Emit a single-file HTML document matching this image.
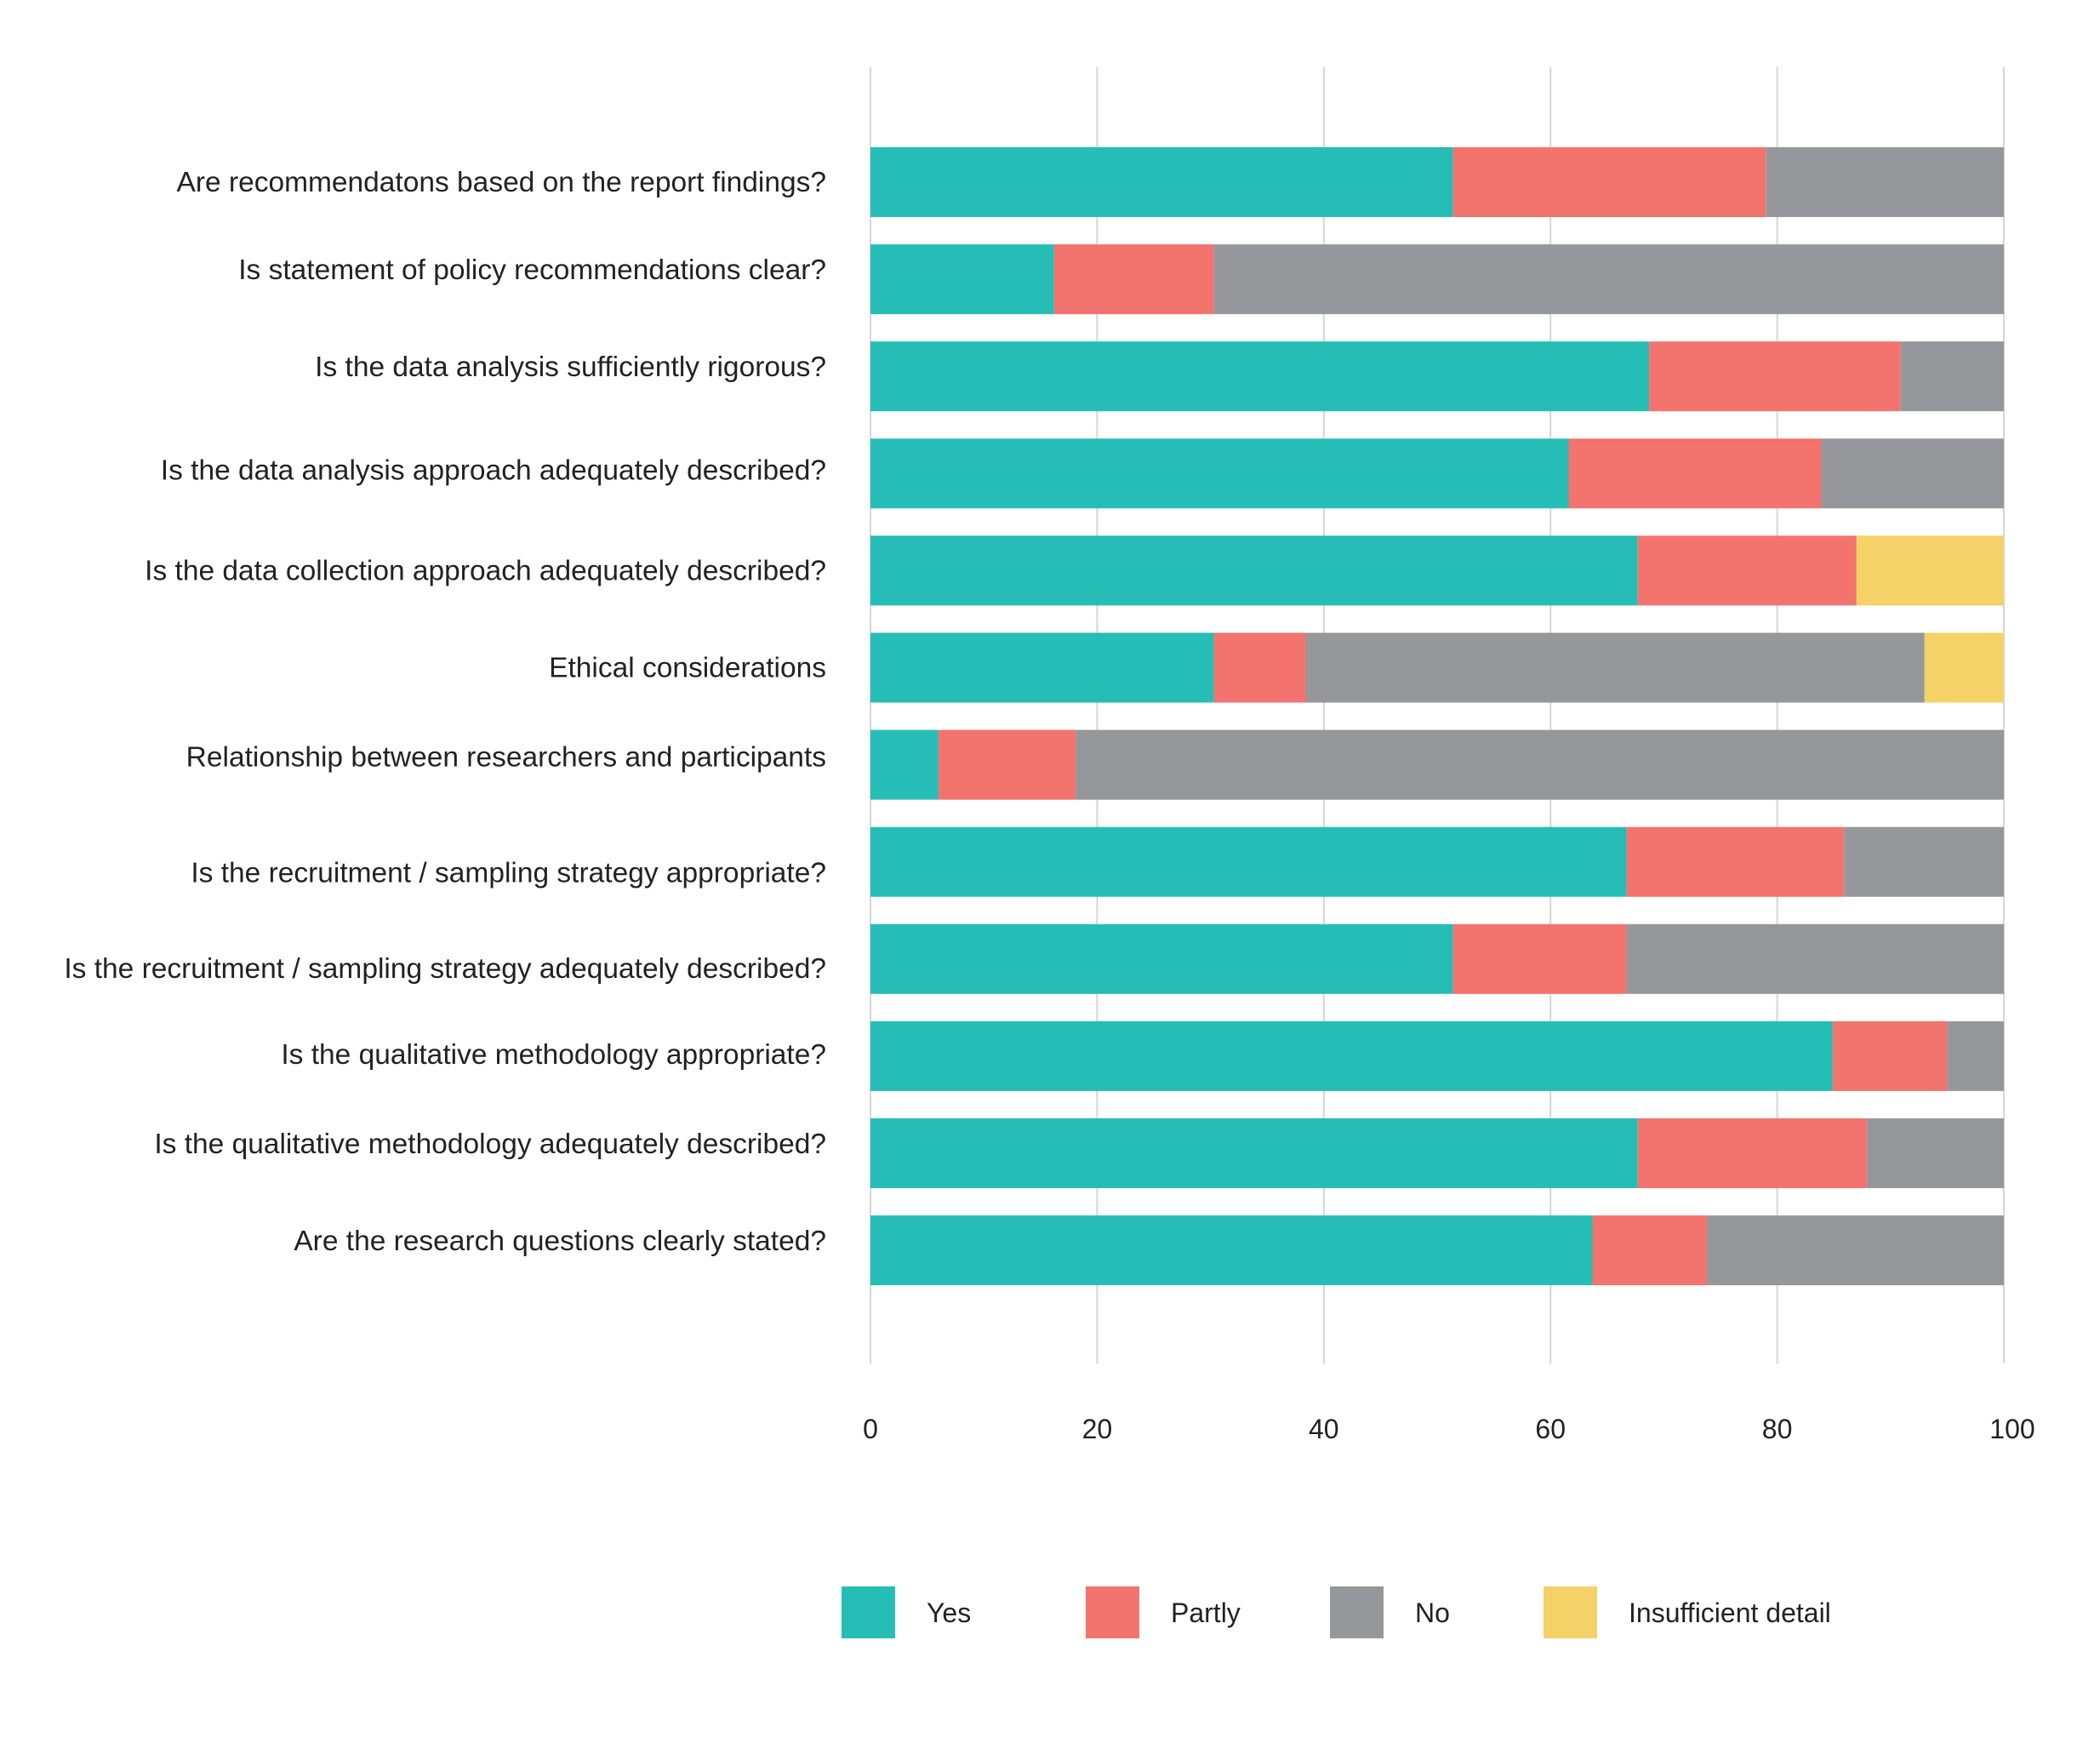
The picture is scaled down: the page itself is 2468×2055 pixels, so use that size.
<!DOCTYPE html>
<html><head><meta charset="utf-8"><style>
html,body{margin:0;padding:0;background:#fff}
svg{display:block;font-family:"Liberation Sans",Arial,sans-serif}
</style></head><body>
<svg id="chart" width="2468" height="2055" viewBox="0 0 2468 2055" xmlns="http://www.w3.org/2000/svg">
<g id="grid"></g>
<g id="bars"></g>
<g id="ylabels"></g>
<g id="xlabels"></g>
<g id="legend"></g>
</svg>
<script>
const categories = [
"Are recommendatons based on the report findings?",
"Is statement of policy recommendations clear?",
"Is the data analysis sufficiently rigorous?",
"Is the data analysis approach adequately described?",
"Is the data collection approach adequately described?",
"Ethical considerations",
"Relationship between researchers and participants",
"Is the recruitment / sampling strategy appropriate?",
"Is the recruitment / sampling strategy adequately described?",
"Is the qualitative methodology appropriate?",
"Is the qualitative methodology adequately described?",
"Are the research questions clearly stated?"
];
const yesVals = [51.4,16.2,68.7,61.6,67.7,30.3,6.0,66.7,51.4,84.9,67.7,63.7];
const partlyVals = [27.6,14.1,22.2,22.3,19.3,8.1,12.1,19.2,15.3,10.1,20.2,10.1];
const noVals = [21.0,69.7,9.1,16.1,0,54.6,81.9,14.1,33.3,5.0,12.1,26.2];
const insuffVals = [0,0,0,0,13.0,7.0,0,0,0,0,0,0];
const seriesNames = ["Yes","Partly","No","Insufficient detail"];
const xTicks = [0,20,40,60,80,100];

const NS="http://www.w3.org/2000/svg";
const colors=["#27BDB7","#F3736E","#96979B","#F4D267"];
const X0=1023, X1=2355, Ytop=173, pitch=114.1, bh=82;
// label vertical nudges (styling only, matches reference's uneven label placement)
const labelNudge=[0,-11,-11,-4,0,0,-9,13,11,-2,-11,-11];
const xs=v=>X0+(X1-X0)*v/100;
const yb=i=>Ytop+i*pitch;
function mk(tag,attrs,parent){const e=document.createElementNS(NS,tag);for(const k in attrs)e.setAttribute(k,attrs[k]);parent.appendChild(e);return e;}
const grid=document.getElementById('grid'),bars=document.getElementById('bars'),yl=document.getElementById('ylabels'),xl=document.getElementById('xlabels'),lg=document.getElementById('legend');
xTicks.forEach(t=>{
  const l=mk('line',{x1:xs(t),x2:xs(t),y1:79,y2:1602,stroke:'#d6d6d6','stroke-width':2},grid);
  
  
  const tx=mk('text',{x:xs(t)+(t===100?10:0),y:1690,'text-anchor':'middle','font-size':32,fill:'#222'},xl);
  tx.textContent=t;
  
  
});
const all=[yesVals,partlyVals,noVals,insuffVals];
categories.forEach((c,i)=>{
  let acc=0;
  all.forEach((s,k)=>{
    const v=s[i]; if(v<=0) return;
    const r=mk('rect',{x:xs(acc),y:yb(i),width:xs(acc+v)-xs(acc),height:bh,fill:colors[k]},bars);
    
    
    acc+=v;
  });
  const t=mk('text',{x:971,y:yb(i)+bh/2+11+labelNudge[i],'text-anchor':'end','font-size':33.5,fill:'#222'},yl);
  t.textContent=c;
  
  
});
const lx=[989,1276,1563,1814];
seriesNames.forEach((n,k)=>{
  const r=mk('rect',{x:lx[k],y:1864,width:63,height:61,fill:colors[k]},lg);
  
  
  const t=mk('text',{x:lx[k]+100,y:1906,'font-size':32,fill:'#222'},lg);
  t.textContent=n;
  
  
});
</script>
</body></html>
